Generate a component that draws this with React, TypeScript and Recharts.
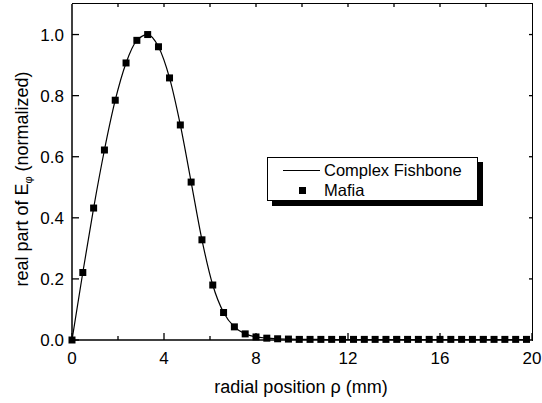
import { ComposedChart, Line, Scatter, XAxis, YAxis } from "recharts";

// radial positions of the sample points (mm)
const rho = [
  0, 0.47, 0.94, 1.41, 1.88, 2.35, 2.82, 3.29, 3.76, 4.24, 4.71, 5.18, 5.65, 6.12,
  6.59, 7.06, 7.53, 8.0, 8.47, 8.94, 9.41, 9.88, 10.35, 10.82, 11.29, 11.76, 12.24,
  12.71, 13.18, 13.65, 14.12, 14.59, 15.06, 15.53, 16.0, 16.47, 16.94, 17.41, 17.88,
  18.35, 18.82, 19.29, 19.76,
];

// normalized Re(E_phi), complex fishbone solution
const fishbone = [
  0, 0.221, 0.432, 0.622, 0.785, 0.907, 0.981, 1.0, 0.96, 0.858, 0.704, 0.517, 0.328,
  0.18, 0.09, 0.043, 0.02, 0.01, 0.006, 0.004, 0.003, 0.002, 0.002, 0.002, 0.001,
  0.001, 0.001, 0.001, 0.001, 0.001, 0.001, 0.001, 0.001, 0.001, 0.001, 0.001, 0.001,
  0.001, 0.001, 0.001, 0.001, 0.001, 0.001,
];

// normalized Re(E_phi), Mafia simulation
const mafia = [
  0, 0.221, 0.432, 0.622, 0.785, 0.907, 0.981, 1.0, 0.96, 0.858, 0.704, 0.517, 0.328,
  0.18, 0.09, 0.043, 0.02, 0.01, 0.006, 0.004, 0.003, 0.002, 0.002, 0.002, 0.002,
  0.002, 0.002, 0.002, 0.002, 0.002, 0.002, 0.002, 0.002, 0.002, 0.002, 0.002, 0.002,
  0.002, 0.002, 0.002, 0.002, 0.002, 0.002,
];

const xTicks = [0, 2, 4, 6, 8, 10, 12, 14, 16, 18, 20];
const yTicks = [0, 0.2, 0.4, 0.6, 0.8, 1.0];

const seriesNames = { fishbone: "Complex Fishbone", mafia: "Mafia" };

const data = rho.map((x, i) => ({ x, fishbone: fishbone[i], mafia: mafia[i] }));

const FONT = "'Liberation Sans', Arial, Helvetica, sans-serif";
const AXIS = { stroke: "#000", strokeWidth: 1.5 };

// plot box geometry, set by the chart margins and axis sizes below
const W = 542;
const H = 403;
const M = { top: 4, right: 10, left: 72, bottom: 63 };
const PLOT_W = W - M.left - M.right;
const PLOT_H = H - M.top - M.bottom;

// bottom ticks point up; the mirrored top ticks are drawn from the same position
function BottomTick({ x, y, payload, index }: any) {
  const major = payload.value % 4 === 0;
  const inner = index > 0 && index < xTicks.length - 1;
  return (
    <g>
      <line x1={x} x2={x} y1={y} y2={y - (major ? 7 : 4)} stroke="#000" strokeWidth={1.3} />
      {inner && (
        <line x1={x} x2={x} y1={y - PLOT_H} y2={y - PLOT_H + 3} stroke="#000" strokeWidth={1.3} />
      )}
      {major && (
        <text x={x} y={y + 24} textAnchor="middle" fontSize={17} fontFamily={FONT} fill="#000">
          {payload.value}
        </text>
      )}
    </g>
  );
}

// left ticks point right; the mirrored right ticks point left
function LeftTick({ x, y, payload }: any) {
  return (
    <g>
      <line x1={x} x2={x + 7} y1={y} y2={y} stroke="#000" strokeWidth={1.3} />
      {payload.value > 0 && (
        <line x1={x + PLOT_W} x2={x + PLOT_W - 3} y1={y} y2={y} stroke="#000" strokeWidth={1.3} />
      )}
      <text x={x - 8} y={y + 6} textAnchor="end" fontSize={17} fontFamily={FONT} fill="#000">
        {payload.value.toFixed(1)}
      </text>
    </g>
  );
}

function XTitle({ viewBox }: any) {
  return (
    <text
      x={viewBox.x + viewBox.width / 2 - 1}
      y={viewBox.y + 53}
      textAnchor="middle"
      fontSize={18}
      fontFamily={FONT}
      fill="#000"
    >
      radial position ρ (mm)
    </text>
  );
}

function YTitle() {
  return (
    <text
      transform="translate(28,179) rotate(-90)"
      textAnchor="middle"
      fontSize={18}
      fontFamily={FONT}
      fill="#000"
    >
      real part of E
      <tspan fontSize={11} dy={4}>φ</tspan>
      <tspan dy={-4}> (normalized)</tspan>
    </text>
  );
}

// top and right edges of the plot box
function Frame() {
  return (
    <div
      style={{
        position: "absolute",
        left: M.left,
        top: M.top - 0.75,
        width: PLOT_W + 0.75,
        height: PLOT_H + 1.5,
        borderTop: "1.5px solid #000",
        borderRight: "1.5px solid #000",
        boxSizing: "border-box",
        pointerEvents: "none",
      }}
    />
  );
}

// boxed legend with a hard drop shadow, placed inside the plot
function LegendBox() {
  const rows = [
    { key: "fishbone", label: seriesNames.fishbone },
    { key: "mafia", label: seriesNames.mafia },
  ];
  return (
    <div
      style={{
        position: "absolute",
        left: 267,
        top: 157,
        width: 211,
        height: 44,
        border: "1px solid #000",
        background: "#fff",
        boxShadow: "5px 5px 0 #000",
        boxSizing: "border-box",
        paddingTop: 2,
        fontFamily: FONT,
        fontSize: 16.5,
        color: "#000",
      }}
    >
      {rows.map((r) => (
        <div key={r.key} style={{ display: "flex", alignItems: "center", height: 20 }}>
          <div style={{ width: 56, position: "relative", height: 20 }}>
            {r.key === "fishbone" ? (
              <div style={{ position: "absolute", left: 15, top: 10, width: 37, height: 1, background: "#000" }} />
            ) : (
              <div style={{ position: "absolute", left: 31, top: 7, width: 7, height: 7, background: "#000" }} />
            )}
          </div>
          <span style={{ lineHeight: "20px" }}>{r.label}</span>
        </div>
      ))}
    </div>
  );
}

export default function App() {
  return (
    <div style={{ position: "absolute", left: 0, top: 0, width: W, height: H, background: "#fff" }}>
      <ComposedChart
        width={W}
        height={H}
        data={data}
        margin={{ top: M.top, right: M.right, bottom: 0, left: 0 }}
      >
        <XAxis
          dataKey="x"
          type="number"
          domain={[0, 20]}
          ticks={xTicks}
          interval={0}
          height={M.bottom}
          tickSize={0}
          tickMargin={0}
          tick={<BottomTick />}
          tickLine={false}
          axisLine={AXIS}
          label={<XTitle />}
        />
        <YAxis
          type="number"
          domain={[0, 1.1]}
          ticks={yTicks}
          interval={0}
          width={M.left}
          tickSize={0}
          tickMargin={0}
          tick={<LeftTick />}
          tickLine={false}
          axisLine={AXIS}
          label={<YTitle />}
        />
        <Line
          name={seriesNames.fishbone}
          dataKey="fishbone"
          type="monotone"
          stroke="#000"
          strokeWidth={1.2}
          dot={false}
          isAnimationActive={false}
        />
        <Scatter
          name={seriesNames.mafia}
          dataKey="mafia"
          fill="#000"
          isAnimationActive={false}
          shape={(p: any) => <rect x={p.cx - 3.5} y={p.cy - 3.5} width={7} height={7} fill="#000" />}
        />
      </ComposedChart>
      <Frame />
      <LegendBox />
    </div>
  );
}
